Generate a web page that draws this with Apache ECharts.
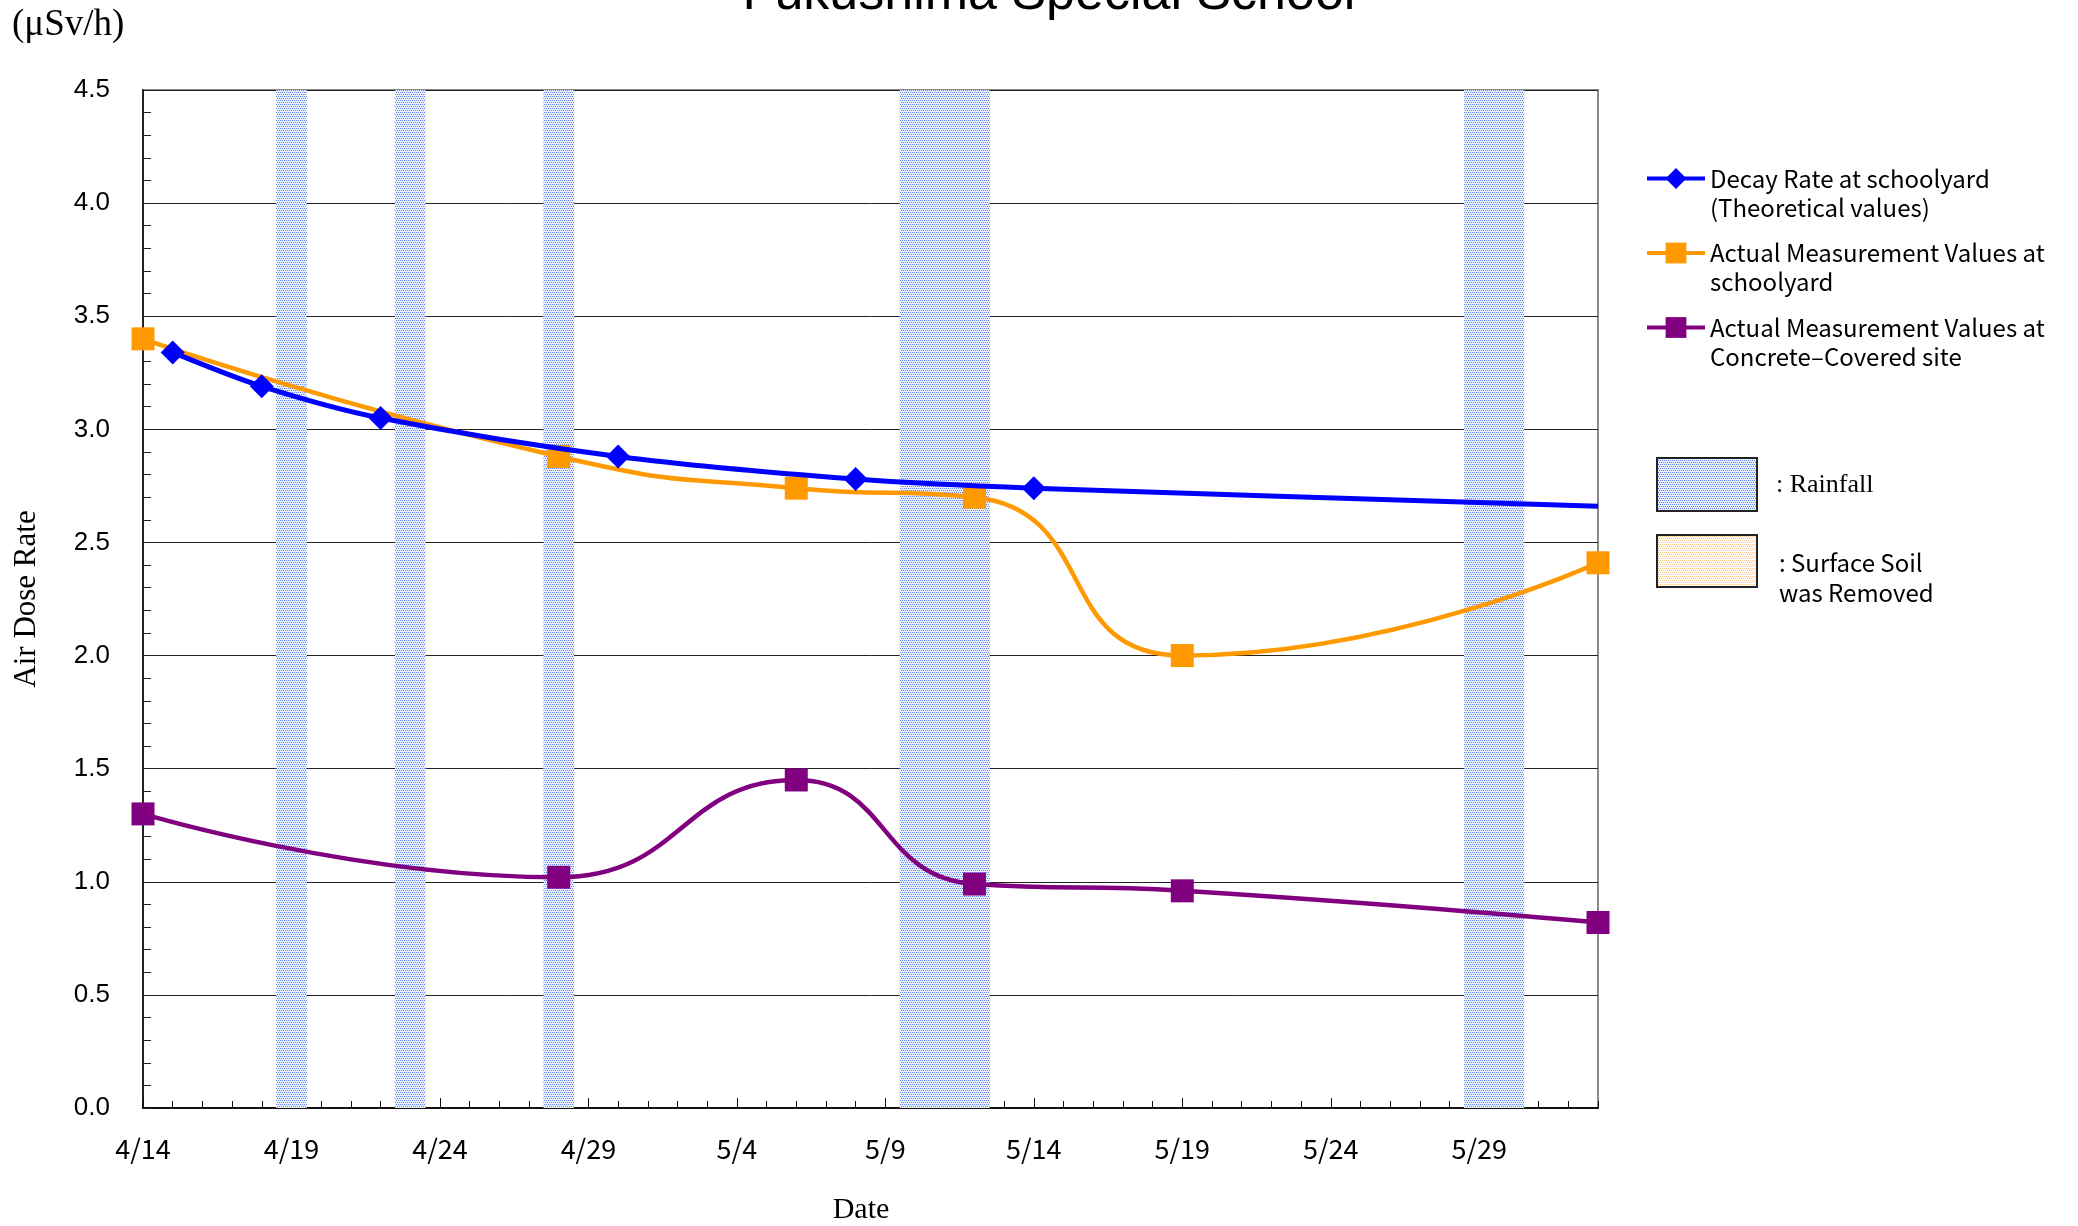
<!DOCTYPE html>
<html>
<head>
<meta charset="utf-8">
<script src="https://cdn.jsdelivr.net/npm/echarts@6/dist/echarts.min.js"></script>
<style>
  html, body { margin: 0; padding: 0; background: #fff; }
  #chart { width: 2078px; height: 1226px; }
</style>
</head>
<body>
<div id="chart"></div>
<script>
// ---- Data ----
const dates = [
  '4/14','4/15','4/16','4/17','4/18','4/19','4/20','4/21','4/22','4/23',
  '4/24','4/25','4/26','4/27','4/28','4/29','4/30','5/1','5/2','5/3',
  '5/4','5/5','5/6','5/7','5/8','5/9','5/10','5/11','5/12','5/13',
  '5/14','5/15','5/16','5/17','5/18','5/19','5/20','5/21','5/22','5/23',
  '5/24','5/25','5/26','5/27','5/28','5/29','5/30','5/31','6/1','6/2'
];
const decayDates = ['4/15','4/18','4/22','4/30','5/8','5/14','6/2'];
const decayValues = [3.34, 3.19, 3.05, 2.88, 2.78, 2.74, 2.66];
const measureDates = ['4/14','4/28','5/6','5/12','5/19','6/2'];
const schoolyardValues = [3.40, 2.88, 2.74, 2.70, 2.00, 2.41];
const concreteValues = [1.30, 1.02, 1.45, 0.99, 0.96, 0.82];
const rainDates = ['4/19','4/23','4/28','5/10','5/11','5/12','5/29','5/30'];
const rainTop = 4.5;
const seriesNames = [
  'Decay Rate at schoolyard\n(Theoretical values)',
  'Actual Measurement Values at\nschoolyard',
  'Actual Measurement Values at\nConcrete\u2013Covered site'
];

// ---- Patterns ----
function makePattern(bg, dot) {
  const c = document.createElement('canvas');
  c.width = 4; c.height = 4;
  const g = c.getContext('2d');
  g.fillStyle = bg; g.fillRect(0, 0, 4, 4);
  g.fillStyle = dot;
  g.fillRect(0, 0, 1, 1); g.fillRect(2, 0, 1, 1);
  g.fillRect(1, 2, 1, 1); g.fillRect(3, 2, 1, 1);
  return { image: c, repeat: 'repeat' };
}
const rainPattern = makePattern('#e9effd', '#5f84ee');
const soilPattern = makePattern('#fffaf3', '#f8c890');

const chart = echarts.init(document.getElementById('chart'), null, { renderer: 'canvas' });

const gothic = 'Noto Sans CJK JP';
const serif = 'Liberation Serif';

const option = {
  animation: false,
  backgroundColor: '#ffffff',
  grid: {
    left: 143, top: 90, right: 480, bottom: 118,
    show: true, borderColor: '#8a8a8a', borderWidth: 2, backgroundColor: 'transparent'
  },
  legend: {
    data: seriesNames,
    orient: 'vertical',
    left: 1645, top: 135, padding: 0,
    itemWidth: 58, itemHeight: 26, itemGap: -12.5,
    selectedMode: false,
    lineStyle: { width: 4 },
    formatter: function (name) { return ' \n' + name; },
    textStyle: { fontFamily: gothic, fontSize: 24, lineHeight: 29, color: '#000' }
  },
  xAxis: [{
    type: 'category', data: dates, boundaryGap: false,
    axisLine: { show: true, lineStyle: { color: '#111', width: 2 } },
    axisTick: { show: true, inside: true, interval: 0, length: 7, lineStyle: { color: '#111', width: 1 } },
    axisLabel: { interval: 4, margin: 27, fontFamily: gothic, fontSize: 27, color: '#000' },
    splitLine: { show: false }
  }, {
    type: 'category', data: dates, boundaryGap: false, position: 'bottom',
    axisLine: { show: false },
    axisTick: { show: true, inside: true, interval: 4, length: 10, lineStyle: { color: '#111', width: 1 } },
    axisLabel: { show: false },
    splitLine: { show: false }
  }],
  yAxis: {
    type: 'value', min: 0, max: 4.5, interval: 0.5,
    name: 'Air Dose Rate', nameLocation: 'middle', nameRotate: 90, nameGap: 101,
    nameTextStyle: { fontFamily: serif, fontSize: 31, color: '#000' },
    axisLine: { show: true, lineStyle: { color: '#222', width: 2 } },
    axisTick: { show: true, inside: true, length: 8, lineStyle: { color: '#222', width: 1 } },
    minorTick: { show: true, splitNumber: 5, length: 8, lineStyle: { color: '#222', width: 1 } },
    axisLabel: {
      margin: 33, fontFamily: 'Liberation Sans', fontSize: 26, color: '#000',
      formatter: function (v) { return v.toFixed(1); }
    },
    splitLine: { show: true, lineStyle: { color: '#222', width: 1 } }
  },
  series: [
    {
      name: 'rain', type: 'bar', xAxisIndex: 0, silent: true, z: 1,
      barWidth: '103%',
      data: rainDates.map(function (d) { return [d, rainTop]; }),
      itemStyle: { color: rainPattern }
    },
    {
      name: seriesNames[0], type: 'line', z: 5, smooth: 0.3, showAllSymbol: true,
      symbol: 'diamond', symbolSize: 24,
      lineStyle: { color: '#0000ff', width: 5 },
      itemStyle: { color: '#0000ff' },
      data: decayDates.map(function (d, i) {
        const item = { value: [d, decayValues[i]] };
        if (i === decayDates.length - 1) item.symbol = 'none';
        return item;
      })
    },
    {
      name: seriesNames[1], type: 'line', z: 4, smooth: 0.55, showAllSymbol: true,
      symbol: 'rect', symbolSize: 23,
      lineStyle: { color: '#ff9900', width: 4.5 },
      itemStyle: { color: '#ff9900' },
      data: measureDates.map(function (d, i) { return [d, schoolyardValues[i]]; })
    },
    {
      name: seriesNames[2], type: 'line', z: 4, smooth: 0.5, showAllSymbol: true,
      symbol: 'rect', symbolSize: 23,
      lineStyle: { color: '#800080', width: 4.5 },
      itemStyle: { color: '#800080' },
      data: measureDates.map(function (d, i) { return [d, concreteValues[i]]; })
    }
  ],
  graphic: [
    {
      type: 'text', x: 1049, y: -5,
      style: { text: 'Fukushima Special School', font: '52px "Liberation Sans"', fill: '#000', align: 'center', verticalAlign: 'middle' }
    },
    {
      type: 'text', x: 12, y: 25,
      style: { text: '(\u03bcSv/h)', font: '37px "Liberation Serif"', fill: '#000', align: 'left', verticalAlign: 'middle' }
    },
    {
      type: 'text', x: 861, y: 1210,
      style: { text: 'Date', font: '30px "Liberation Serif"', fill: '#000', align: 'center', verticalAlign: 'middle' }
    },
    {
      type: 'rect', shape: { x: 1657, y: 458, width: 100, height: 53 },
      style: { fill: rainPattern, stroke: '#222', lineWidth: 2 }
    },
    {
      type: 'text', x: 1776, y: 485,
      style: { text: ': Rainfall', font: '26px "Liberation Serif"', fill: '#000', align: 'left', verticalAlign: 'middle' }
    },
    {
      type: 'rect', shape: { x: 1657, y: 535, width: 100, height: 52 },
      style: { fill: soilPattern, stroke: '#222', lineWidth: 2 }
    },
    {
      type: 'text', x: 1779, y: 578,
      style: { text: ': Surface Soil\nwas Removed', font: '24px "Noto Sans CJK JP"', lineHeight: 30, fill: '#000', align: 'left', verticalAlign: 'middle' }
    }
  ]
};
chart.setOption(option);
</script>
</body>
</html>
